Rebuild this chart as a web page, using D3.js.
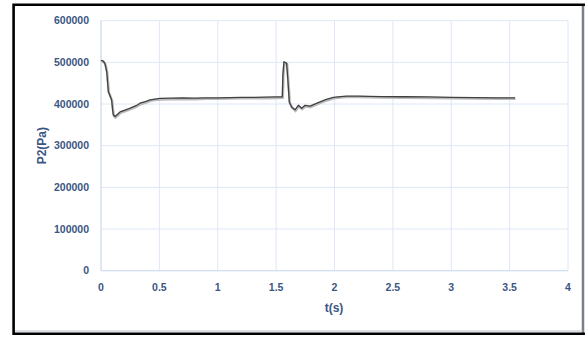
<!DOCTYPE html>
<html>
<head>
<meta charset="utf-8">
<script src="https://cdn.jsdelivr.net/npm/d3@7"></script>
<style>
  body { margin: 0; background: #fff; }
  text { font-family: 'Liberation Sans', Arial, sans-serif; font-weight: bold; fill: #3a5683; }
</style>
</head>
<body>
<div id="chart-area"></div>
<script>
// time (s) and pressure P2 (Pa)
let time = [0, 0.02, 0.034, 0.049, 0.063, 0.08, 0.091, 0.1, 0.106, 0.12, 0.14, 0.163, 0.2, 0.25, 0.3, 0.334, 0.38, 0.42, 0.46, 0.506,
  0.6, 0.7, 0.8, 0.9, 1.0, 1.1, 1.2, 1.3, 1.4, 1.5, 1.553, 1.558, 1.567, 1.59, 1.6, 1.613, 1.633, 1.662, 1.69, 1.719, 1.748,
  1.79, 1.83, 1.876, 1.93, 1.99, 2.05, 2.104, 2.2, 2.4, 2.6, 2.8, 3.0, 3.2, 3.4, 3.546];
let pressure = [505000, 503000, 497000, 478000, 430000, 418000, 410000, 385000, 374000, 370000, 375000, 381000, 385000, 390000, 396000, 402000, 406000, 410000, 412000, 413500,
  414000, 414500, 414000, 415000, 415000, 415500, 416000, 416000, 416500, 417000, 417500, 470000, 501000, 498000, 460000, 405000, 393000, 386000, 397000, 390000, 397000,
  395000, 400000, 405000, 411000, 416000, 418000, 419000, 419000, 418000, 417500, 417000, 416000, 415500, 415000, 415000];
let xTicks = [0, 0.5, 1, 1.5, 2, 2.5, 3, 3.5, 4];
let yTicks = [0, 100000, 200000, 300000, 400000, 500000, 600000];

let width = 585;
let height = 341;
let plot = { left: 101, right: 568, top: 20.7, bottom: 270.7 };

let svg = d3.select('#chart-area').append('svg').attr('width', width).attr('height', height);

// frame: black on top, left and bottom, grey on the right
svg.append('line').attr('x1', 583).attr('x2', 583).attr('y1', 5).attr('y2', 333)
  .attr('stroke', '#7a7f88').attr('stroke-width', 2.5);
svg.append('line').attr('x1', 15).attr('x2', 583).attr('y1', 331).attr('y2', 331)
  .attr('stroke', '#b8c0cc').attr('stroke-width', 1);
svg.append('path').attr('d', 'M585,4.8H13.6V333.8H585')
  .attr('fill', 'none').attr('stroke', '#000').attr('stroke-width', 2.6);

let x = d3.scaleLinear().domain([0, 4]).range([plot.left, plot.right]);
let y = d3.scaleLinear().domain([0, 600000]).range([plot.bottom, plot.top]);

// grid
svg.append('g').selectAll('line').data(yTicks).enter().append('line')
  .attr('x1', plot.left).attr('x2', plot.right)
  .attr('y1', (d) => y(d)).attr('y2', (d) => y(d))
  .attr('stroke', '#dde8f6').attr('stroke-width', 1);
svg.append('g').selectAll('line').data(xTicks).enter().append('line')
  .attr('x1', (d) => x(d)).attr('x2', (d) => x(d))
  .attr('y1', plot.top).attr('y2', plot.bottom)
  .attr('stroke', '#dde8f6').attr('stroke-width', 1);
svg.append('line').attr('x1', plot.left).attr('x2', plot.right).attr('y1', plot.bottom).attr('y2', plot.bottom)
  .attr('stroke', '#cfdcf0');
svg.append('line').attr('x1', plot.left).attr('x2', plot.left).attr('y1', plot.top).attr('y2', plot.bottom)
  .attr('stroke', '#cfdcf0');

// tick labels
svg.append('g').selectAll('text').data(yTicks).enter().append('text')
  .attr('x', 89).attr('y', (d) => y(d)).attr('dy', '0.35em')
  .attr('text-anchor', 'end').style('font-size', '10.5px')
  .text((d) => d);
svg.append('g').selectAll('text').data(xTicks).enter().append('text')
  .attr('x', (d) => x(d)).attr('y', 287).attr('dy', '0.35em')
  .attr('text-anchor', 'middle').style('font-size', '10.5px')
  .text((d) => d);

// axis titles
svg.append('text').attr('x', 334).attr('y', 308).attr('dy', '0.35em')
  .attr('text-anchor', 'middle').style('font-size', '12px').text('t(s)');
svg.append('text').attr('transform', `translate(42, ${(plot.top + plot.bottom) / 2}) rotate(-90)`)
  .attr('dy', '0.35em').attr('text-anchor', 'middle').style('font-size', '12px').text('P2(Pa)');

// line
let line = d3.line().x((d, i) => x(time[i])).y((d) => y(d));
svg.append('path').datum(pressure).attr('d', line).attr('fill', 'none')
  .attr('stroke', '#bbb').attr('stroke-width', 2.5).attr('transform', 'translate(0.5,1)');
svg.append('path').datum(pressure).attr('d', line).attr('fill', 'none')
  .attr('stroke', '#404040').attr('stroke-width', 1.3).attr('stroke-linejoin', 'round');
</script>
</body>
</html>
